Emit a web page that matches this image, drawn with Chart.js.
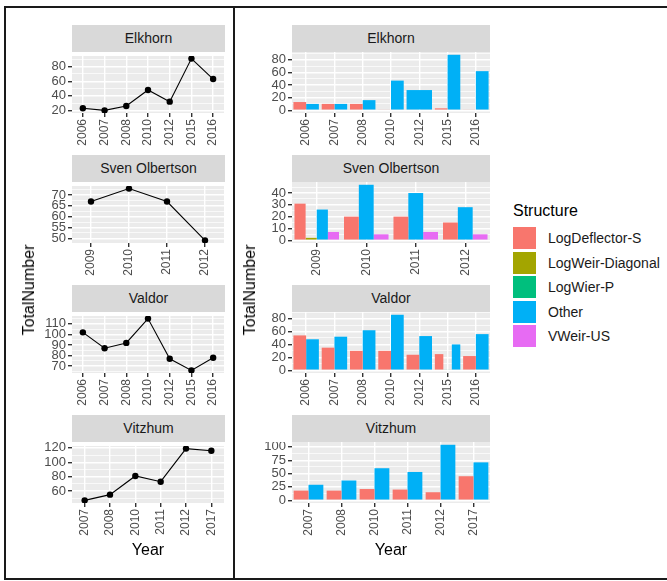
<!DOCTYPE html>
<html>
<head>
<meta charset="utf-8">
<script src="https://cdn.jsdelivr.net/npm/chart.js@4.4.1/dist/chart.umd.min.js"></script>
<style>
  body { margin: 0; background: #fff; }
  #page { position: relative; width: 667px; height: 581px; overflow: hidden;
          font-family: "Liberation Sans", Arial, sans-serif; }
  #page canvas, .strip, .rule, .axis-title, #legend { position: absolute; }
  .strip { background: #d9d9d9; color: #1a1a1a; font-size: 14px; text-align: center;
           height: 27px; line-height: 27px; }
  .rule { background: #1a1a1a; }
  .axis-title { color: #000; font-size: 16px; white-space: nowrap; }
  .axis-title.vertical { transform: translate(-50%, -50%) rotate(-90deg); }
  .axis-title.horizontal { transform: translate(-50%, -50%); }
  #legend { left: 513px; top: 202px; color: #1a1a1a; white-space: nowrap; }
  #legend .title { font-size: 16px; color: #000; margin-bottom: 6px; }
  #legend .row { display: flex; align-items: center; height: 24.5px; font-size: 14px; }
  #legend .key { width: 23px; height: 22px; margin-right: 12px; flex: none; }
</style>
</head>
<body>
<div id="page"></div>
<script>
const structures = ['LogDeflector-S', 'LogWeir-Diagonal', 'LogWier-P', 'Other', 'VWeir-US'];
const structureColors = ['#F8766D', '#A3A500', '#00BF7D', '#00B0F6', '#E76BF3'];

// Elkhorn
const elkhornYears = ['2006', '2007', '2008', '2010', '2012', '2015', '2016'];
const elkhornTotal = [23, 20, 26, 48, 32, 91, 63];
const elkhornDeflector = [13, 10, 10, 1, null, 3, 1];
const elkhornOther = [10, 10, 16, 47, 32, 88, 62];
const elkhornLineTicks = [20, 40, 60, 80];
const elkhornBarTicks = [0, 20, 40, 60, 80];

// Sven Olbertson
const svenYears = ['2009', '2010', '2011', '2012'];
const svenTotal = [67, 73, 67, 49];
const svenDeflector = [31, 20, 20, 15];
const svenWeirDiagonal = [2, null, null, null];
const svenOther = [26, 47, 40, 28];
const svenVWeir = [7, 5, 7, 5];
const svenLineTicks = [50, 55, 60, 65, 70];
const svenBarTicks = [0, 10, 20, 30, 40];

// Valdor
const valdorYears = ['2006', '2007', '2008', '2010', '2012', '2015', '2016'];
const valdorTotal = [102, 87, 92, 115, 77, 66, 78];
const valdorDeflector = [54, 35, 30, 30, 24, 25, 22];
const valdorWierP = [null, null, null, null, null, 1, null];
const valdorOther = [48, 52, 62, 86, 53, 40, 56];
const valdorLineTicks = [70, 80, 90, 100, 110];
const valdorBarTicks = [0, 20, 40, 60, 80];

// Vitzhum
const vitzhumYears = ['2007', '2008', '2010', '2011', '2012', '2017'];
const vitzhumTotal = [47, 55, 81, 73, 119, 116];
const vitzhumDeflector = [18, 18, 21, 20, 15, 45];
const vitzhumOther = [29, 37, 60, 53, 104, 71];
const vitzhumLineTicks = [60, 80, 100, 120];
const vitzhumBarTicks = [0, 25, 50, 75, 100];

const sites = [
  { name: 'Elkhorn', years: elkhornYears, total: elkhornTotal, lineTicks: elkhornLineTicks, barTicks: elkhornBarTicks,
    bars: [elkhornDeflector, null, null, elkhornOther, null] },
  { name: 'Sven Olbertson', years: svenYears, total: svenTotal, lineTicks: svenLineTicks, barTicks: svenBarTicks,
    bars: [svenDeflector, svenWeirDiagonal, null, svenOther, svenVWeir] },
  { name: 'Valdor', years: valdorYears, total: valdorTotal, lineTicks: valdorLineTicks, barTicks: valdorBarTicks,
    bars: [valdorDeflector, null, valdorWierP, valdorOther, null] },
  { name: 'Vitzhum', years: vitzhumYears, total: vitzhumTotal, lineTicks: vitzhumLineTicks, barTicks: vitzhumBarTicks,
    bars: [vitzhumDeflector, null, null, vitzhumOther, null] }
];

const FONT = '"Liberation Sans", Arial, sans-serif';
const page = document.getElementById('page');

// grey panel behind the grid, like ggplot's theme_grey
const panelBackground = {
  id: 'panelBackground',
  beforeDraw(chart) {
    const { ctx, chartArea: a } = chart;
    ctx.save();
    ctx.fillStyle = '#ebebeb';
    ctx.fillRect(a.left, a.top, a.right - a.left, a.bottom - a.top);
    ctx.restore();
  }
};

function expandLimits(values) {
  const nums = values.filter(v => v !== null);
  const lo = Math.min(...nums), hi = Math.max(...nums);
  const pad = (hi - lo) * 0.05;
  return [lo - pad, hi + pad];
}

// major breaks plus the minor ones halfway between them
function withMinor(major, lo, hi) {
  const step = major[1] - major[0];
  const out = [];
  for (let v = major[0] - step; v <= major[major.length - 1] + step + 1e-9; v += step / 2) {
    if (v >= lo && v <= hi) out.push(v);
  }
  return out;
}

function yScale(lo, hi, major, axisWidth) {
  const isMajor = v => major.includes(v);
  return {
    type: 'linear', min: lo, max: hi,
    afterBuildTicks: axis => { axis.ticks = withMinor(major, lo, hi).map(v => ({ value: v })); },
    afterFit: axis => { axis.width = axisWidth; axis.paddingTop = 0; axis.paddingBottom = 0; },
    ticks: { autoSkip: false, color: '#4d4d4d', font: { size: 13, family: FONT }, padding: 2,
             callback: v => isMajor(v) ? String(v) : '' },
    grid: { color: '#ffffff', lineWidth: c => isMajor(c.tick.value) ? 1.4 : 0.7,
            tickColor: c => isMajor(c.tick.value) ? '#333333' : 'rgba(0,0,0,0)', tickLength: 4 },
    border: { display: false }
  };
}

function xScale() {
  return {
    type: 'category', offset: true,
    afterFit: axis => { axis.height = 45; axis.paddingLeft = 0; axis.paddingRight = 0; },
    ticks: { autoSkip: false, minRotation: 90, maxRotation: 90, color: '#4d4d4d',
             font: { size: 12, family: FONT }, padding: 2 },
    grid: { offset: false, color: '#ffffff', lineWidth: 1.4, tickColor: '#333333', tickLength: 4 },
    border: { display: false }
  };
}

function addDiv(cls, text, style) {
  const d = document.createElement('div');
  d.className = cls;
  if (text) d.textContent = text;
  Object.assign(d.style, style);
  page.appendChild(d);
  return d;
}

function addCanvas(left, top, width, height) {
  const c = document.createElement('canvas');
  c.width = width; c.height = height;
  Object.assign(c.style, { left: left + 'px', top: top + 'px', width: width + 'px', height: height + 'px' });
  page.appendChild(c);
  return c.getContext('2d');
}

const panelHeight = 61;
const baseOptions = {
  responsive: false, animation: false,
  layout: { padding: { top: 0, right: 3, left: 0, bottom: 0 } },
  plugins: { legend: { display: false }, tooltip: { enabled: false } }
};

sites.forEach((site, k) => {
  const stripTop = 25 + 130 * k;
  const panelTop = stripTop + 27;

  // totals per year
  addDiv('strip', site.name, { left: '72px', top: stripTop + 'px', width: '153px' });
  const [lLo, lHi] = expandLimits(site.total);
  new Chart(addCanvas(12, panelTop, 216, panelHeight + 45), {
    type: 'line',
    data: {
      labels: site.years,
      datasets: [{
        data: site.total, borderColor: '#000', borderWidth: 1.1, tension: 0,
        pointRadius: 3.2, pointBackgroundColor: '#000', pointBorderWidth: 0
      }]
    },
    options: { ...baseOptions, scales: { x: xScale(), y: yScale(lLo, lHi, site.lineTicks, 60) } },
    plugins: [panelBackground]
  });

  // counts per structure, dodged within each year
  addDiv('strip', site.name, { left: '292px', top: stripTop + 'px', width: '198px' });
  const allBars = [0];
  site.bars.forEach(b => { if (b) allBars.push(...b.filter(v => v !== null)); });
  const [bLo, bHi] = expandLimits(allBars);
  const datasets = [];
  site.bars.forEach((values, i) => {
    if (!values) return;
    datasets.push({
      label: structures[i], data: values, backgroundColor: structureColors[i], borderWidth: 0,
      categoryPercentage: 0.9, barPercentage: 1, skipNull: true
    });
  });
  new Chart(addCanvas(236, panelTop, 257, panelHeight + 45), {
    type: 'bar',
    data: { labels: site.years, datasets },
    options: { ...baseOptions, scales: { x: xScale(), y: yScale(bLo, bHi, site.barTicks, 56) } },
    plugins: [panelBackground]
  });
});

// axis titles
addDiv('axis-title horizontal', 'Year', { left: '148px', top: '550px' });
addDiv('axis-title horizontal', 'Year', { left: '391px', top: '550px' });
addDiv('axis-title vertical', 'TotalNumber', { left: '29px', top: '290px' });
addDiv('axis-title vertical', 'TotalNumber', { left: '250px', top: '290px' });

// legend
const legend = addDiv('', null, {});
legend.id = 'legend';
const title = document.createElement('div');
title.className = 'title';
title.textContent = 'Structure';
legend.appendChild(title);
structures.forEach((name, i) => {
  const row = document.createElement('div');
  row.className = 'row';
  const key = document.createElement('span');
  key.className = 'key';
  key.style.background = structureColors[i];
  const label = document.createElement('span');
  label.textContent = name;
  row.appendChild(key);
  row.appendChild(label);
  legend.appendChild(row);
});

// frame around the two figures
addDiv('rule', null, { left: '4px', top: '6px', width: '663px', height: '2px' });
addDiv('rule', null, { left: '4px', top: '6px', width: '2px', height: '573px' });
addDiv('rule', null, { left: '233px', top: '6px', width: '2px', height: '573px' });
addDiv('rule', null, { left: '4px', top: '578px', width: '663px', height: '2px' });
</script>
</body>
</html>
